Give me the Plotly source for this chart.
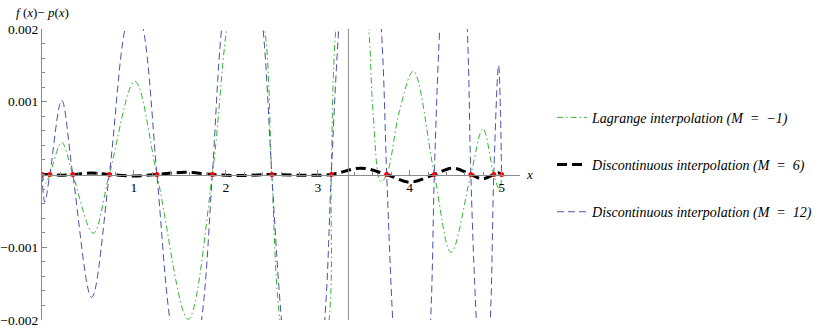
import plotly.graph_objs as go

# interpolation nodes
nodes_x = [0, 0.085, 0.335, 0.732, 1.25, 1.853, 2.5, 3.147, 3.75, 4.268, 4.665, 4.915, 5.0]
nodes_y = [0] * len(nodes_x)

# Lagrange interpolation (M = -1)
lag_x = [0, 0.04, 0.085, 0.214, 0.335, 0.558, 0.732, 1.01, 1.25, 1.59, 1.853, 2.008, 2.2, 2.424,
         2.5, 2.587, 2.85, 3.123, 3.147, 3.196, 3.38, 3.554, 3.60, 3.685, 3.75, 3.89, 4.04, 4.268,
         4.45, 4.665, 4.797, 4.915, 4.98, 5.0]
lag_y = [0, -0.00012, 0, 0.00044, 0, -0.000807, 0, 0.00128, 0, -0.00199, 0, 0.002, 0.0035, 0.002,
         0, -0.002, -0.004, -0.002, 0, 0.002, 0.004, 0.002, 0.00088, -0.0001, 0, 0.00088, 0.00142, 0,
         -0.00107, 0, 0.00063, 0, -0.00022, 0]

# discontinuous interpolation (M = 6)
m6_x = [0, 0.085, 0.2, 0.335, 0.53, 0.732, 0.99, 1.25, 1.55, 1.853, 2.18, 2.5, 2.82, 3.147,
        3.47, 3.75, 4.0, 4.268, 4.47, 4.665, 4.79, 4.915, 4.96, 5.0]
m6_y = [0, 0, -0.00001, 0, 0.00002, 0, -0.00002, 0, 0.00003, 0, -0.000015, 0, -0.00001, 0,
        0.000087, 0, -0.000106, 0, 0.000087, 0, -0.00006, 0, 0.000023, 0]

# discontinuous interpolation (M = 12)
m12_x = [0, 0.03, 0.085, 0.214, 0.335, 0.54, 0.732, 0.902, 1.0, 1.101, 1.25, 1.391, 1.56, 1.736,
         1.853, 1.953, 2.18, 2.405, 2.5, 2.605, 2.84, 3.076, 3.147, 3.228, 3.46, 3.692, 3.75,
         3.815, 4.02, 4.228, 4.268, 4.326, 4.48, 4.627, 4.665, 4.725, 4.80, 4.877, 4.915, 4.967, 5.0]
m12_y = [0, -0.00038, 0, 0.00102, 0, -0.00169, 0, 0.002, 0.0024, 0.002, 0, -0.002, -0.0032, -0.002,
         0, 0.002, 0.0044, 0.002, 0, -0.002, -0.005, -0.002, 0, 0.002, 0.0058, 0.002, 0,
         -0.002, -0.0065, -0.002, 0, 0.002, 0.0055, 0.002, 0, -0.002, -0.0035, -0.002, 0, 0.0015, 0]

x_ticks = [1, 2, 3, 4, 5]
y_ticks = [-0.002, -0.001, 0.001, 0.002]
y_ticktext = ["\u22120.002", "\u22120.001", "0.001", "0.002"]
break_x = 10 / 3

serif = "Liberation Serif, Times New Roman, DejaVu Serif, serif"
gray = '#8a8a8a'

fig = go.Figure()
fig.add_trace(go.Scatter(x=lag_x, y=lag_y, mode='lines', line_shape='spline',
                         name='<i>Lagrange interpolation (M  =  \u22121)</i>',
                         legendgroup='a', legendrank=1,
                         line=dict(color='#33b533', width=1, dash='6px,3px,1.5px,3px')))
fig.add_trace(go.Scatter(x=m12_x, y=m12_y, mode='lines', line_shape='spline',
                         name='<i>Discontinuous interpolation (M  =  12)</i>',
                         legendgroup='c', legendrank=3,
                         line=dict(color='#5050a8', width=1, dash='7px,4px')))
fig.add_trace(go.Scatter(x=m6_x, y=m6_y, mode='lines', line_shape='spline',
                         name='<i>Discontinuous interpolation (M  =  6)</i>',
                         legendgroup='b', legendrank=2,
                         line=dict(color='black', width=3, dash='10px,5px')))
fig.add_trace(go.Scatter(x=nodes_x, y=nodes_y, mode='markers', showlegend=False,
                         marker=dict(color='red', size=5)))

# marks the point x = 10/3
fig.add_vline(x=break_x, line_width=1, line_color=gray)

fig.add_annotation(x=0, y=1.058, xref='paper', yref='paper', showarrow=False,
                   text='<i>f</i> (<i>x</i>)\u2212 <i>p</i>(<i>x</i>)', xanchor='center', yanchor='middle',
                   font=dict(family=serif, size=13, color='black'))
fig.add_annotation(x=1.008, y=0.5, xref='paper', yref='paper', showarrow=False,
                   text='<i>x</i>', xanchor='left', yanchor='middle',
                   font=dict(family=serif, size=13, color='black'))

fig.update_layout(
    width=830, height=329,
    margin=dict(l=42, r=310, t=29, b=9),
    plot_bgcolor='white', paper_bgcolor='white',
    font=dict(family=serif, size=13, color='black'),
    xaxis=dict(range=[0, 5.2], anchor='free', position=0.5, showgrid=False, zeroline=False,
               automargin=False, showline=True, linecolor=gray, linewidth=1,
               tickvals=x_ticks, ticks='inside', ticklen=5, tickcolor=gray,
               minor=dict(dtick=0.2, ticks='inside', ticklen=3, tickcolor=gray),
               tickfont=dict(family=serif, size=13.5)),
    yaxis=dict(range=[-0.002, 0.002], showgrid=False, zeroline=False,
               automargin=False, showline=True, linecolor=gray, linewidth=1,
               tickvals=y_ticks, ticktext=y_ticktext, ticks='inside', ticklen=5, tickcolor=gray,
               minor=dict(dtick=0.0002, ticks='inside', ticklen=3, tickcolor=gray),
               tickfont=dict(family=serif, size=13.5)),
    legend=dict(x=1.067, y=0.75, xanchor='left', yanchor='top', traceorder='grouped',
                tracegroupgap=26, itemwidth=30, bgcolor='rgba(0,0,0,0)',
                font=dict(family=serif, size=14, color='black')),
)

# the page's default body margin would shift the chart by 8px
fig.write_html("out.html", config={'displayModeBar': False},
               post_script="document.body.style.margin='0';")
